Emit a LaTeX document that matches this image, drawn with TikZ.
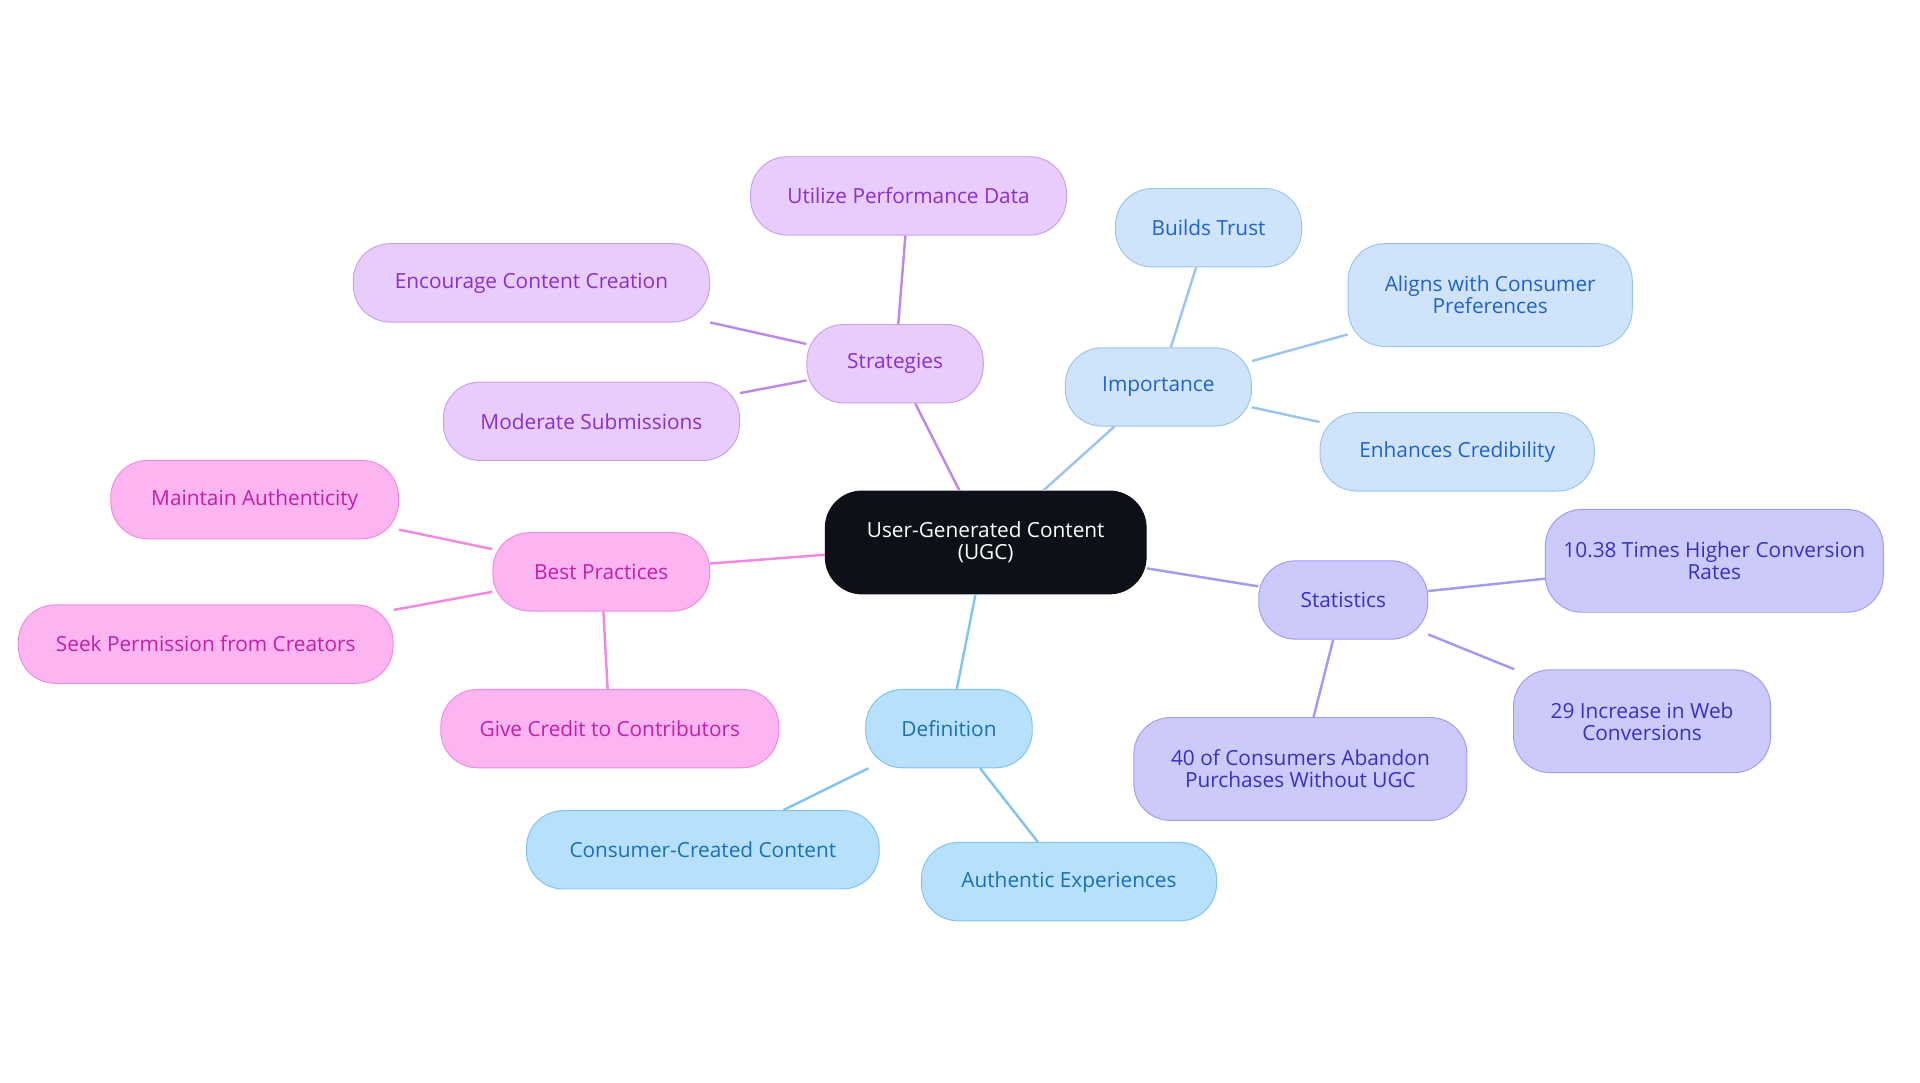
\documentclass[tikz,border=0pt]{standalone}
\usepackage{fontspec}
\setmainfont{Open Sans}
\begin{document}
\begin{tikzpicture}[x=1pt,y=-1pt,
 base/.style={rounded corners=30pt,draw,line width=0.8pt,minimum height=64pt,align=center,font=\fontsize{17}{18}\selectfont,inner sep=2pt},
 pu/.style={base,fill=pfill,draw=pdraw,text=ptext},
 bl/.style={base,fill=bfill,draw=bdraw,text=btext},
 vi/.style={base,fill=vfill,draw=vdraw,text=vtext},
 sk/.style={base,fill=sfill,draw=sdraw,text=stext},
 pk/.style={base,fill=kfill,draw=kdraw,text=ktext},
 e/.style={line width=2pt}]
\definecolor{pfill}{HTML}{E8CCFB}\definecolor{pdraw}{HTML}{C9A0EF}\definecolor{ptext}{HTML}{8B2FC9}
\definecolor{bfill}{HTML}{CFE3FB}\definecolor{bdraw}{HTML}{9CC4EF}\definecolor{btext}{HTML}{1F63C9}
\definecolor{vfill}{HTML}{CCCAFB}\definecolor{vdraw}{HTML}{A19CF0}\definecolor{vtext}{HTML}{3B2FC0}
\definecolor{sfill}{HTML}{B6E0FC}\definecolor{sdraw}{HTML}{82C3F0}\definecolor{stext}{HTML}{1A6FB5}
\definecolor{kfill}{HTML}{FDB5F2}\definecolor{kdraw}{HTML}{F08AE0}\definecolor{ktext}{HTML}{C21FA8}
\definecolor{dark}{HTML}{0D1117}
\useasboundingbox (0,0) rectangle (1568,884);
\node[base,fill=dark,draw=dark,text=white,minimum width=262pt,minimum height=84pt] (c) at (805,443) {User-Generated Content\\(UGC)};
\node[pu,minimum width=144pt] (s) at (731,297) {Strategies};
\node[pu,minimum width=258pt] (s1) at (742,160) {Utilize Performance Data};
\node[pu,minimum width=291pt] (s2) at (434,231) {Encourage Content Creation};
\node[pu,minimum width=242pt] (s3) at (483,344) {Moderate Submissions};
\node[bl,minimum width=152pt] (i) at (946,316) {Importance};
\node[bl,minimum width=152pt] (i1) at (987,186) {Builds Trust};
\node[bl,minimum width=232pt,minimum height=84pt] (i2) at (1217,241) {Aligns with Consumer\\Preferences};
\node[bl,minimum width=224pt] (i3) at (1190,369) {Enhances Credibility};
\node[vi,minimum width=138pt] (t) at (1097,490) {Statistics};
\node[vi,minimum width=276pt,minimum height=84pt] (t1) at (1400,458) {10.38 Times Higher Conversion\\Rates};
\node[vi,minimum width=210pt,minimum height=84pt] (t2) at (1341,589) {29 Increase in Web\\Conversions};
\node[vi,minimum width=272pt,minimum height=84pt] (t3) at (1062,628) {40 of Consumers Abandon\\Purchases Without UGC};
\node[sk,minimum width=136pt] (d) at (775,595) {Definition};
\node[sk,minimum width=288pt] (d1) at (574,694) {Consumer-Created Content};
\node[sk,minimum width=241pt] (d2) at (873,720) {Authentic Experiences};
\node[pk,minimum width=177pt] (b) at (491,467) {Best Practices};
\node[pk,minimum width=235pt] (b1) at (208,408) {Maintain Authenticity};
\node[pk,minimum width=306pt] (b2) at (168,526) {Seek Permission from Creators};
\node[pk,minimum width=276pt] (b3) at (498,595) {Give Credit to Contributors};
\begin{scope}[on background layer/.style={}]
\end{scope}
\begin{scope}[e]
\draw[color=pdraw!80!ptext] (c) -- (s); \draw[color=pdraw!80!ptext] (s) -- (s1); \draw[color=pdraw!80!ptext] (s) -- (s2); \draw[color=pdraw!80!ptext] (s) -- (s3);
\draw[color=bdraw] (c) -- (i); \draw[color=bdraw] (i) -- (i1); \draw[color=bdraw] (i) -- (i2); \draw[color=bdraw] (i) -- (i3);
\draw[color=vdraw] (c) -- (t); \draw[color=vdraw] (t) -- (t1); \draw[color=vdraw] (t) -- (t2); \draw[color=vdraw] (t) -- (t3);
\draw[color=sdraw] (c) -- (d); \draw[color=sdraw] (d) -- (d1); \draw[color=sdraw] (d) -- (d2);
\draw[color=kdraw] (c) -- (b); \draw[color=kdraw] (b) -- (b1); \draw[color=kdraw] (b) -- (b2); \draw[color=kdraw] (b) -- (b3);
\end{scope}
\end{tikzpicture}
\end{document}
